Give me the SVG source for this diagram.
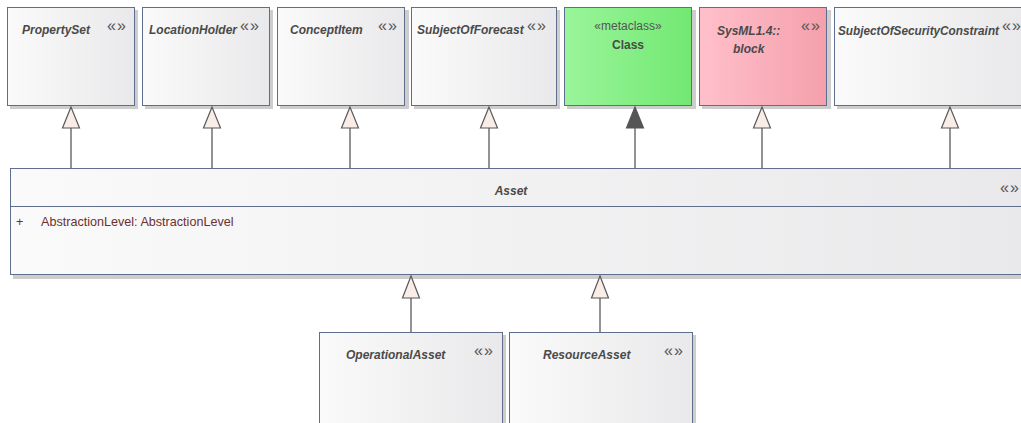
<svg xmlns="http://www.w3.org/2000/svg" width="1021" height="423" viewBox="0 0 1021 423">
<defs>
<linearGradient id="gGray" x1="0" y1="0" x2="1" y2="0">
<stop offset="0" stop-color="#fafafa"/><stop offset="1" stop-color="#e9e9eb"/>
</linearGradient>
<linearGradient id="gGreen" x1="0" y1="0" x2="1" y2="0">
<stop offset="0" stop-color="#9af59a"/><stop offset="1" stop-color="#72e872"/>
</linearGradient>
<linearGradient id="gPink" x1="0" y1="0" x2="1" y2="0">
<stop offset="0" stop-color="#ffc0cb"/><stop offset="1" stop-color="#f4a0ac"/>
</linearGradient>
</defs>
<style>
.sh{fill:#cdcdcd}
.box{stroke:#5f6e8c;stroke-width:1}
.g{fill:url(#gGray)}
.nm{font-family:"Liberation Sans",Arial,sans-serif;font-size:12px;font-weight:bold;font-style:italic;fill:#4a4a4a}
.st{font-family:"Liberation Sans",Arial,sans-serif;font-size:16px;fill:#555;text-anchor:middle;letter-spacing:1px}
.mc{font-family:"Liberation Sans",Arial,sans-serif;font-size:12px;fill:#555}
.cl{font-family:"Liberation Sans",Arial,sans-serif;font-size:12px;font-weight:bold;fill:#4a4a4a}
.at{font-family:"Liberation Sans",Arial,sans-serif;font-size:12.6px;fill:#6b3030}
.ln{stroke:#595959;stroke-width:1.3;fill:none}
.tri{fill:#f9ede8;stroke:#595959;stroke-width:1.2}
.trif{fill:#555;stroke:#555;stroke-width:1.2}
</style>

<g id="PropertySet">
<rect class="sh" x="10" y="10" width="128" height="99"/>
<rect class="box g" x="7.5" y="7.5" width="127" height="98"/>
<text class="nm" x="22" y="34">PropertySet</text>
<text class="st" x="117" y="31">«»</text>
</g>
<g id="LocationHolder">
<rect class="sh" x="145" y="10" width="128" height="99"/>
<rect class="box g" x="142.5" y="7.5" width="127" height="98"/>
<text class="nm" x="149" y="34">LocationHolder</text>
<text class="st" x="250" y="31">«»</text>
</g>
<g id="ConceptItem">
<rect class="sh" x="280" y="10" width="129" height="99"/>
<rect class="box g" x="277.5" y="7.5" width="127" height="98"/>
<text class="nm" x="290" y="34">ConceptItem</text>
<text class="st" x="388" y="31">«»</text>
</g>
<g id="SubjectOfForecast">
<rect class="sh" x="414" y="10" width="146" height="99"/>
<rect class="box g" x="411.5" y="7.5" width="145" height="98"/>
<text class="nm" x="417" y="34">SubjectOfForecast</text>
<text class="st" x="537" y="31">«»</text>
</g>
<g id="Class">
<rect class="sh" x="567" y="10" width="129" height="99"/>
<rect class="box" fill="url(#gGreen)" x="564.5" y="7.5" width="127" height="98"/>
<text class="mc" x="628" y="30" text-anchor="middle">«metaclass»</text>
<text class="cl" x="628" y="49" text-anchor="middle">Class</text>
</g>
<g id="SysML_block">
<rect class="sh" x="702" y="10" width="129" height="99"/>
<rect class="box" fill="url(#gPink)" x="699.5" y="7.5" width="127" height="98"/>
<text class="nm" x="717" y="35">SysML1.4::</text>
<text class="nm" x="733" y="53">block</text>
<text class="st" x="811" y="31">«»</text>
</g>
<g id="SubjectOfSecurityConstraint">
<rect class="sh" x="837" y="10" width="190" height="99"/>
<rect class="box g" x="834.5" y="7.5" width="190" height="98"/>
<text class="nm" x="838" y="35" textLength="161" lengthAdjust="spacingAndGlyphs">SubjectOfSecurityConstraint</text>
<text class="st" x="1012" y="31">«»</text>
</g>

<g id="Asset">
<rect class="sh" x="13" y="171" width="1015" height="108"/>
<rect class="box g" x="10.5" y="168.5" width="1015" height="106"/>
<line x1="10.5" y1="206.5" x2="1021" y2="206.5" stroke="#5f6e8c" stroke-width="1"/>
<text class="nm" x="511" y="195" text-anchor="middle">Asset</text>
<text class="st" x="1010" y="193">«»</text>
<text class="at" x="16" y="226">+</text>
<text class="at" x="41" y="226">AbstractionLevel: AbstractionLevel</text>
</g>

<g id="OperationalAsset">
<rect class="sh" x="322" y="335" width="184" height="95"/>
<rect class="box g" x="319.5" y="332.5" width="183" height="95"/>
<text class="nm" x="346" y="359">OperationalAsset</text>
<text class="st" x="484" y="356">«»</text>
</g>
<g id="ResourceAsset">
<rect class="sh" x="512" y="335" width="184" height="95"/>
<rect class="box g" x="509.5" y="332.5" width="183" height="95"/>
<text class="nm" x="543" y="359">ResourceAsset</text>
<text class="st" x="674" y="356">«»</text>
</g>

<g id="connectors">
<line class="ln" x1="71" y1="128" x2="71" y2="168"/>
<polygon class="tri" points="71,107 62.5,128 79.5,128"/>
<line class="ln" x1="212" y1="128" x2="212" y2="168"/>
<polygon class="tri" points="212,107 203.5,128 220.5,128"/>
<line class="ln" x1="350" y1="128" x2="350" y2="168"/>
<polygon class="tri" points="350,107 341.5,128 358.5,128"/>
<line class="ln" x1="489" y1="128" x2="489" y2="168"/>
<polygon class="tri" points="489,107 480.5,128 497.5,128"/>
<line class="ln" x1="635" y1="128" x2="635" y2="168"/>
<polygon class="trif" points="635,107 626.5,128 643.5,128"/>
<line class="ln" x1="762" y1="128" x2="762" y2="168"/>
<polygon class="tri" points="762,107 753.5,128 770.5,128"/>
<line class="ln" x1="950" y1="128" x2="950" y2="168"/>
<polygon class="tri" points="950,107 941.5,128 958.5,128"/>
<line class="ln" x1="411" y1="298" x2="411" y2="332"/>
<polygon class="tri" points="411,276 402.5,298 419.5,298"/>
<line class="ln" x1="600" y1="298" x2="600" y2="332"/>
<polygon class="tri" points="600,276 591.5,298 608.5,298"/>
</g>
</svg>
